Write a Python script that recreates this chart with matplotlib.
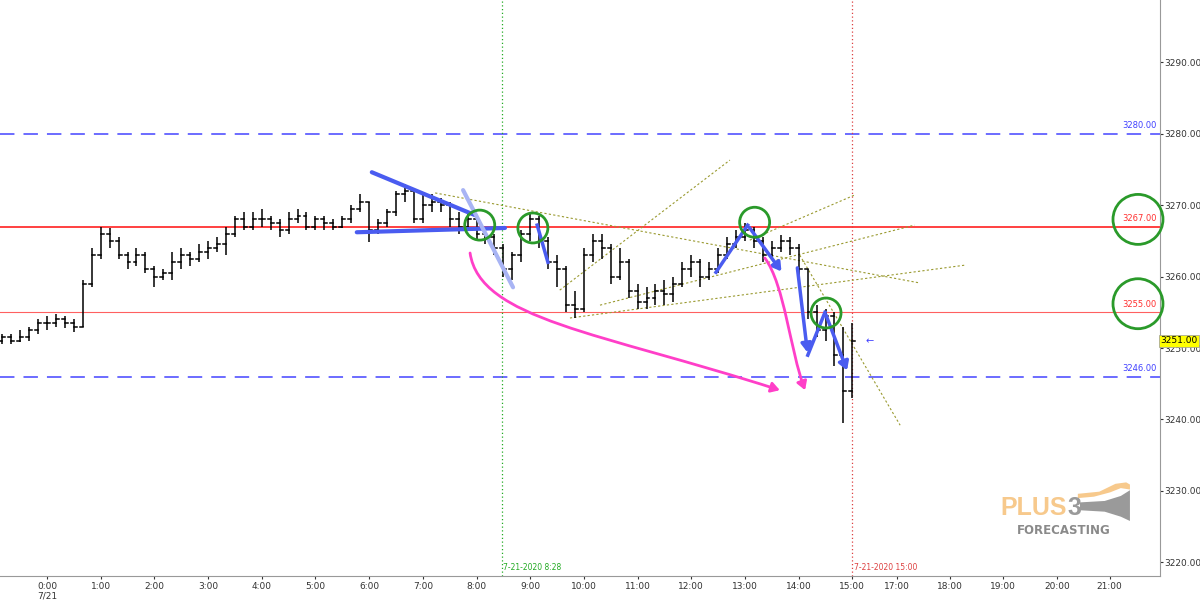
import matplotlib
matplotlib.use("Agg")
import matplotlib.pyplot as plt
import numpy as np
from matplotlib.patches import Ellipse, FancyArrowPatch, Polygon
from matplotlib.path import Path

# 10-minute bars starting 23:10 (minutes relative to 0:00 on 7/21)
start_min = -50
closes = [3251.5,3251,3251.5,3252.5,3253.5,
 3253.5,3254,3253.5,3253,3259,3263,
 3266,3265,3263,3262,3263,3261,
 3260,3260.5,3262,3263,3262.5,3263.5,
 3264,3264.5,3266,3268,3267,3268,
 3268,3267.5,3266.5,3268,3268.5,3267,
 3268,3267.5,3267,3268,3269.5,3270.5,
 3266.5,3267.5,3269,3271.5,3272,3268,
 3270,3270.5,3270,3268,3267,3268,
 3266,3265.5,3264,3261,3263,3266,
 3268,3265,3262,3261,3256,3255.5,
 3263,3265,3264,3260,3262,3258,
 3256.5,3257,3258,3257.5,3259,3261,
 3262,3260,3261,3263,3264.5,3265.5,
 3266.5,3265,3263,3264,3265,3264,
 3261,3255,3252.5,3254.5,3249,3244,
 3251]
highs = [3252,3252,3252.5,3253,3254,
 3254.5,3254.8,3254.5,3254,3259.5,3264,
 3267,3266.8,3265.5,3263.5,3264,3263.5,
 3261.5,3261,3263.5,3264,3263.5,3264.5,
 3265,3265.5,3267,3268.5,3269,3269,
 3269.5,3268.5,3268,3269,3269.5,3269,
 3268.5,3268.5,3268,3268.5,3270,3271.5,
 3270.5,3268,3269.5,3272,3273,3272,
 3271.5,3271.5,3271,3270.5,3269,3269,
 3268,3267,3266,3264.5,3263.5,3266.5,
 3268.8,3268.5,3265.5,3263,3261.5,3258,
 3264,3266,3266,3264.5,3264,3262.5,
 3259,3258.5,3259,3259.5,3260,3262,
 3263,3262.5,3262,3264,3265.5,3266.5,
 3267.5,3267,3265.5,3265,3265.8,3265.5,
 3264.5,3261,3256,3255.5,3255,3253,
 3253.5]
lows = [3250.5,3250.5,3250.8,3251,3252,
 3252.5,3253,3252.8,3252.3,3253,3258.5,
 3262.5,3264,3262.5,3261,3261.5,3260.5,
 3258.5,3259.5,3259.5,3261,3261.5,3262,
 3262.5,3263.5,3263,3265.5,3266.5,3266.5,
 3267,3266.5,3265.5,3266,3267.5,3266.5,
 3266.5,3266.5,3266.5,3266.8,3267.5,3269,
 3264.8,3266,3267,3268.5,3270.5,3267.5,
 3267.5,3269,3269,3267,3266,3266.5,
 3265,3264.5,3263,3260,3259.5,3262,
 3265,3264,3261,3258.5,3255,3254.2,
 3255,3262,3262.5,3259,3259.5,3257,
 3255.5,3255.5,3256,3256,3256.5,3258.5,
 3260,3258.5,3259.5,3260.5,3262.5,3264,
 3265,3264,3262,3262.5,3263.5,3263,
 3260,3254,3251.5,3251,3247.5,3239.5,
 3243]

levels_blue = [3280, 3246]
levels_red = [3267, 3255]
yticks = [3220,3230,3240,3250,3260,3270,3280,3290]
xtick_pos = [0,1,2,3,4,5,6,7,8,9,10,11,12,13,14,15,15.83,16.82,17.81,18.82,19.79]
xtick_lab = ["0:00\n7/21","1:00","2:00","3:00","4:00","5:00","6:00","7:00","8:00","9:00",
             "10:00","11:00","12:00","13:00","14:00","15:00","17:00","18:00","19:00","20:00","21:00"]
last_price = 3251.00

fig = plt.figure(figsize=(12, 6.06), dpi=100)
ax = fig.add_axes([0, 30/606, 1160/1200, 576/606])
ax.set_xlim(-0.875, 20.73)
ax.set_ylim(3218.1, 3298.7)

t = (start_min + 10*np.arange(len(closes))) / 60.0
opens = [closes[0] - 0.5] + closes[:-1]
w = 0.055
for ti, o, c, h, l in zip(t, opens, closes, highs, lows):
    ax.plot([ti, ti], [l, h], color="black", lw=1.1, solid_capstyle="butt", zorder=3)
    ax.plot([ti - w, ti], [o, o], color="black", lw=1.1, zorder=3)
    ax.plot([ti, ti + w], [c, c], color="black", lw=1.1, zorder=3)

for lv in levels_blue:
    ax.axhline(lv, color="#6060ff", lw=1.3, ls=(0, (8, 5)), zorder=1)
    ax.text(20.67, lv + 0.5, f"{lv:.2f}", color="#4040ff", fontsize=6, ha="right", va="bottom")
ax.axhline(levels_red[0], color="#ff2020", lw=1.2, zorder=1)
ax.axhline(levels_red[1], color="#ff6060", lw=0.8, zorder=1)
for lv in levels_red:
    ax.text(20.67, lv + 0.5, f"{lv:.2f}", color="#ff3030", fontsize=6, ha="right", va="bottom")

ax.axvline(8 + 28/60, color="#22aa22", lw=0.9, ls=(0, (1, 2)))
ax.axvline(15.0, color="#dd4040", lw=0.9, ls=(0, (1, 2)))
ax.text(8 + 28/60 + 0.03, 3218.6, "7-21-2020 8:28", color="#22aa22", fontsize=5.5, va="bottom")
ax.text(15.03, 3218.6, "7-21-2020 15:00", color="#dd4040", fontsize=5.5, va="bottom")

# olive dotted trend lines
olive = "#9a9a30"
for (x0, y0, x1, y1) in [(7.23,3271.7,16.26,3259.1),(9.74,3254.2,17.1,3261.6),
                         (10.3,3256,16.16,3267.2),(9.55,3258.1,12.72,3276.3),
                         (14.02,3263,15.89,3239.2),(13.09,3265.1,15.04,3271.4)]:
    ax.plot([x0, x1], [y0, y1], color=olive, lw=0.8, ls=(0, (2, 2)), zorder=2)

# blue drawings
blue = "#4a5cf0"
ax.plot([6.05, 7.97], [3274.6, 3268.6], color=blue, lw=3, zorder=4, solid_capstyle="round")
ax.plot([5.77, 8.53], [3266.2, 3266.8], color=blue, lw=3, zorder=4, solid_capstyle="round")
ax.plot([7.75, 8.68], [3272.1, 3258.5], color="#a8b4f4", lw=3, zorder=4, solid_capstyle="round")
ax.plot([9.13, 9.33], [3267.2, 3262], color=blue, lw=2.5, zorder=4)
ax.plot([12.46, 13.05], [3260.6, 3267.2], color=blue, lw=2.5, zorder=4)
ax.plot([14.17, 14.49], [3249, 3255], color=blue, lw=2.5, zorder=4)
for (a, b) in [((13.05, 3267.2), (13.71, 3260.4)), ((14.49, 3255), (14.92, 3246.5)),
               ((13.97, 3261.6), (14.17, 3249))]:
    ax.add_patch(FancyArrowPatch(a, b, arrowstyle="-|>,head_length=5,head_width=3",
                                 color=blue, lw=2.5, zorder=4))

# pink curved arrows
pink = "#ff3fc8"
for verts in [[(7.88,3263.3),(8.06,3254),(10.3,3252.2),(13.65,3244.1)],
              [(13.37,3262.6),(13.74,3258.8),(13.84,3249.7),(14.12,3244.1)]]:
    p = Path(verts, [Path.MOVETO, Path.CURVE4, Path.CURVE4, Path.CURVE4])
    ax.add_patch(FancyArrowPatch(path=p, arrowstyle="-|>,head_length=5,head_width=3",
                                 color=pink, lw=2, zorder=4))

# green circles
green = "#2a9a2a"
for (cx, cy, r) in [(8.06,3267.2,15),(9.05,3266.8,15),(13.18,3267.6,15),(14.51,3254.9,15),
                    (20.32,3268,25),(20.32,3256.2,25)]:
    ax.add_patch(Ellipse((cx, cy), 2*r/53.7, 2*r/7.15, fill=False, ec=green, lw=2, zorder=5,
                         clip_on=False))

ax.text(15.25, 3251, "\u2190", color="#4040ff", fontsize=7, va="center")

# logo
ax.add_patch(Polygon([(19.24,3228.4),(19.7,3228.6),(20.0,3229.3),(20.17,3230.1),
                      (20.17,3225.8),(20.0,3226.4),(19.7,3227.1),(19.24,3227.3)],
                     closed=True, fc="#9a9a9a", ec="none", zorder=2))
ax.add_patch(Polygon([(19.2,3229.6),(19.6,3229.9),(19.9,3231.0),(20.1,3231.2),(20.17,3230.9),
                      (20.17,3230.2),(20.0,3230.4),(19.8,3229.8),(19.5,3229.2),(19.2,3229.0)],
                     closed=True, fc="#f7c98c", ec="none", zorder=2))
ax.text(19.0, 3227.6, "PLUS", color="#f7c98c", fontsize=18, fontweight="bold",
        family="Liberation Sans", ha="right", va="center")
ax.text(19.0, 3227.6, "3", color="#9a9a9a", fontsize=18, fontweight="bold",
        family="Liberation Sans", ha="left", va="center")
ax.text(18.06, 3224.4, "FORECASTING", color="#8a8a8a", fontsize=8.5, fontweight="bold", va="center")

# axes styling
for s in ["top", "left"]:
    ax.spines[s].set_visible(False)
ax.spines["right"].set_color("#999999")
ax.spines["bottom"].set_color("#999999")
ax.yaxis.tick_right()
ax.set_yticks(yticks)
ax.set_yticklabels([f"{v:.2f}" for v in yticks], fontsize=6.5)
ax.tick_params(axis="y", length=2, pad=1, colors="#333333")
ax.set_xticks(xtick_pos)
ax.set_xticklabels(xtick_lab, fontsize=6.5, va="top")
ax.tick_params(axis="x", length=2, pad=2, colors="#333333")
ax.text(1.0, last_price, f"{last_price:.2f}", transform=ax.get_yaxis_transform(), fontsize=6.5,
        va="center", ha="left", bbox=dict(boxstyle="square,pad=0.15", fc="#ffff00", ec="#999999", lw=0.5),
        zorder=6)

fig.savefig("out.png", dpi=100)
